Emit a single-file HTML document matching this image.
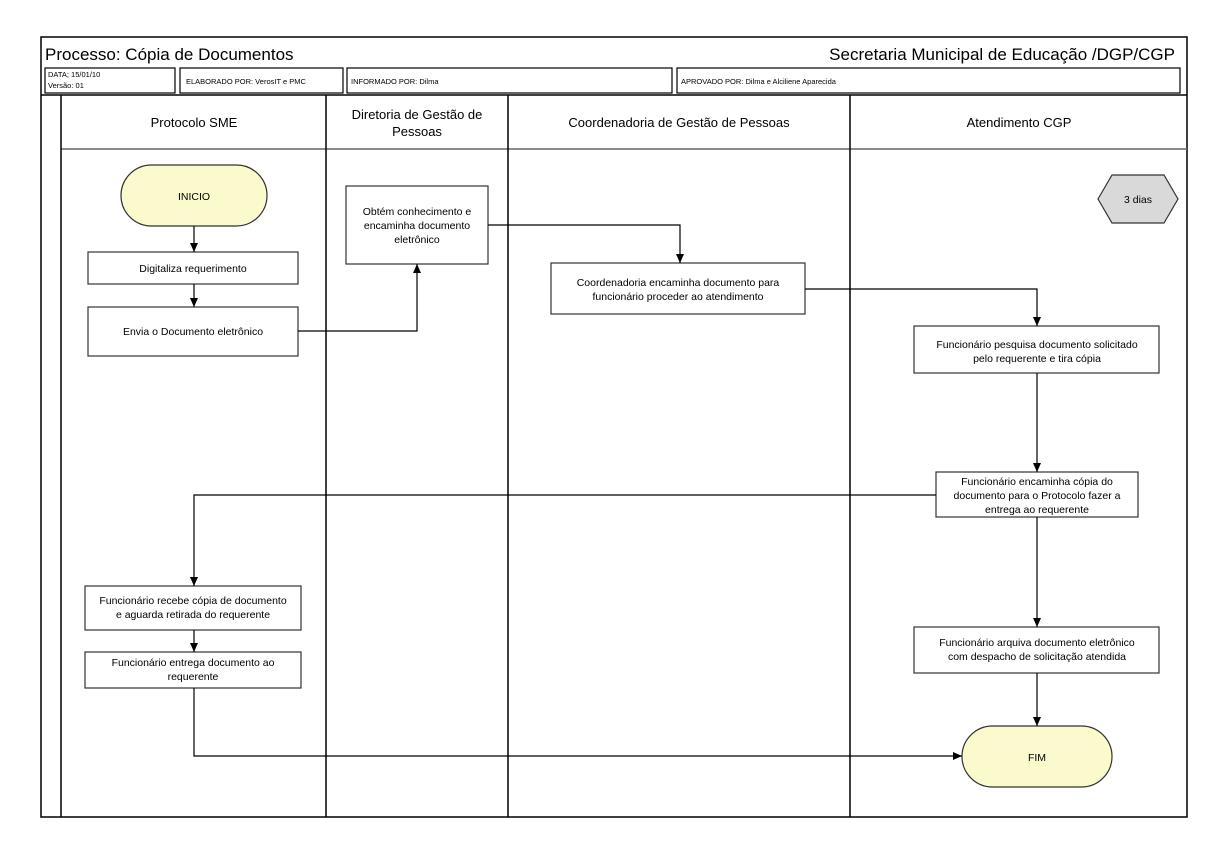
<!DOCTYPE html>
<html><head><meta charset="utf-8"><style>
body{margin:0;background:#fff;}
svg text{font-family:"Liberation Sans",Arial,sans-serif;fill:#000;}
</style></head><body>
<svg width="1209" height="854" viewBox="0 0 1209 854" xmlns="http://www.w3.org/2000/svg">
<defs><marker id="a" markerWidth="10" markerHeight="10" refX="9" refY="5" orient="auto" markerUnits="userSpaceOnUse"><path d="M0,1 L9,5 L0,9 z" fill="#000"/></marker></defs>
<rect width="1209" height="854" fill="#fff"/>
<rect x="41" y="37" width="1146" height="780" fill="none" stroke="#000" stroke-width="1.5"/>
<text x="45" y="60" font-size="17">Processo: Cópia de Documentos</text>
<text x="1175" y="60" font-size="17" text-anchor="end">Secretaria Municipal de Educação /DGP/CGP</text>
<g fill="none" stroke="#000" stroke-width="1.2">
<rect x="45" y="68" width="130" height="25"/>
<rect x="180" y="68" width="163" height="25"/>
<rect x="347" y="68" width="325" height="25"/>
<rect x="677" y="68" width="503" height="25"/>
</g>
<text x="48" y="77" font-size="7.5">DATA; 15/01/10</text>
<text x="48" y="88" font-size="7.5">Versão: 01</text>
<text x="186" y="84" font-size="7.5">ELABORADO POR: VerosIT e PMC</text>
<text x="351" y="84" font-size="7.5">INFORMADO POR: Dilma</text>
<text x="681" y="84" font-size="7.5">APROVADO POR: Dilma e Alciliene Aparecida</text>
<g stroke="#000" stroke-width="1.5" fill="none">
<line x1="41" y1="95" x2="1187" y2="95"/>
<line x1="61" y1="149" x2="1187" y2="149" stroke="#666"/>
<line x1="61" y1="95" x2="61" y2="817"/>
<line x1="326" y1="95" x2="326" y2="817"/>
<line x1="508" y1="95" x2="508" y2="817"/>
<line x1="850" y1="95" x2="850" y2="817"/>
</g>
<g font-size="13" text-anchor="middle">
<text x="194" y="127">Protocolo SME</text>
<text x="417" y="119">Diretoria de Gestão de</text>
<text x="417" y="136">Pessoas</text>
<text x="679" y="127">Coordenadoria de Gestão de Pessoas</text>
<text x="1019" y="127">Atendimento CGP</text>
</g>
<g stroke="#333" stroke-width="1.2">
<rect x="121" y="165" width="146" height="61" rx="30.5" fill="#fafacd"/>
<rect x="962" y="726" width="150" height="61" rx="30.5" fill="#fafacd"/>
<polygon points="1098,199 1112,175 1164,175 1178,199 1164,223 1112,223" fill="#d9d9d9"/>
<g fill="#fff">
<rect x="88" y="252" width="210" height="32"/>
<rect x="88" y="307" width="210" height="49"/>
<rect x="346" y="186" width="142" height="78"/>
<rect x="551" y="263" width="254" height="51"/>
<rect x="914" y="326" width="245" height="47"/>
<rect x="936" y="472" width="202" height="45"/>
<rect x="85" y="586" width="216" height="44"/>
<rect x="85" y="652" width="216" height="36"/>
<rect x="914" y="627" width="245" height="46"/>
</g>
</g>
<g stroke="#000" stroke-width="1.2" fill="none" marker-end="url(#a)">
<path d="M194,226 V252"/>
<path d="M194,284 V307"/>
<path d="M298,331 H417 V264"/>
<path d="M488,225 H680 V263"/>
<path d="M805,289 H1037 V326"/>
<path d="M1037,373 V472"/>
<path d="M936,495 H194 V586"/>
<path d="M194,630 V652"/>
<path d="M1037,517 V627"/>
<path d="M1037,673 V726"/>
<path d="M194,688 V756 H962"/>
</g>
<g font-size="10.5" text-anchor="middle">
<text x="194" y="200">INICIO</text>
<text x="1037" y="761">FIM</text>
<text x="1138" y="203">3 dias</text>
<text x="193" y="272">Digitaliza requerimento</text>
<text x="193" y="335">Envia o Documento eletrônico</text>
<text x="417" y="215">Obtém conhecimento e</text>
<text x="417" y="229">encaminha  documento</text>
<text x="417" y="243">eletrônico</text>
<text x="678" y="286">Coordenadoria encaminha documento para</text>
<text x="678" y="300">funcionário proceder ao atendimento</text>
<text x="1037" y="348">Funcionário pesquisa documento solicitado</text>
<text x="1037" y="362">pelo requerente e tira cópia</text>
<text x="1037" y="485">Funcionário encaminha cópia do</text>
<text x="1037" y="499">documento para o Protocolo fazer a</text>
<text x="1037" y="513">entrega ao requerente</text>
<text x="193" y="604">Funcionário recebe cópia de documento</text>
<text x="193" y="618">e aguarda retirada do requerente</text>
<text x="193" y="666">Funcionário entrega documento ao</text>
<text x="193" y="680">requerente</text>
<text x="1037" y="646">Funcionário arquiva documento eletrônico</text>
<text x="1037" y="660">com despacho de solicitação atendida</text>
</g>
</svg>
</body></html>
